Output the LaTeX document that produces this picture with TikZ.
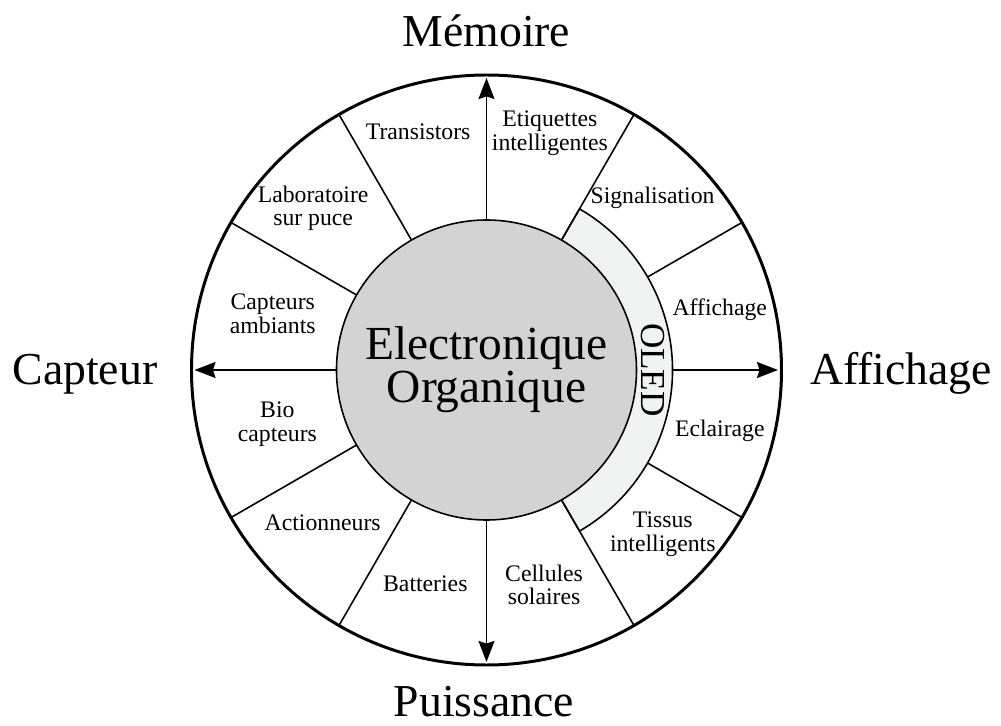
\documentclass[tikz,border=0pt]{standalone}
\usepackage{fontspec}
\setmainfont{Liberation Serif}
\usepackage{xcolor}
\usepackage{tikz}
\usetikzlibrary{arrows.meta,positioning}

\definecolor{coregray}{HTML}{D3D3D3}
\definecolor{oledgray}{HTML}{F1F2F2}

\begin{document}
\begin{tikzpicture}[
    divider/.style={line width=0.9pt},
    axis/.style={line width=0.9pt, -{Stealth[length=0.42cm,width=0.32cm,inset=0.05cm]}},
    lbl/.style={align=center, inner sep=0pt, font=\fontsize{13.5}{13.3}\selectfont},
    pole/.style={inner sep=0pt, font=\fontsize{26}{28}\selectfont}]
    \useasboundingbox (-9.73,-7.12) rectangle (10.29,7.4);

    % outer ring
    \node[circle, draw, line width=1.7pt, minimum size=11.8cm, inner sep=0pt] (rim) at (0,0) {};

    % OLED band
    \draw[divider, fill=oledgray] (60:3) -- (60:3.72) arc[start angle=60, end angle=-60, radius=3.72] -- (-60:3);
    \node[rotate=-90, font=\fontsize{20}{22}\selectfont, inner sep=0pt] (oled) at (3.33,0) {OLED};

    % sectors
    \foreach \a/\r in {30/3.72,60/3,120/3,150/3,210/3,240/3,300/3,330/3.72}
      \draw[divider] (\a:\r) -- (\a:5.9);

    % core
    \node[circle, draw, line width=0.9pt, fill=coregray, minimum size=6cm, inner sep=0pt,
      align=center, font=\fontsize{27}{24.5}\selectfont] (core) at (0,0) {Electronique\\Organique};

    % axes
    \coordinate (top) at (90:5.84);
    \coordinate (bottom) at (270:5.84);
    \coordinate (left) at (180:5.84);
    \coordinate (right) at (0:5.83);
    \coordinate (bandedge) at (0:3.72);
    \draw[axis] (core.north) -- (top);
    \draw[axis] (core.south) -- (bottom);
    \draw[axis] (core.west) -- (left);
    \draw[axis] (bandedge) -- (right);

    \node[pole, anchor=base] (memoire) at (0,6.47) {Mémoire};
    \node[pole, anchor=base] (puissance) at (-0.05,-6.93) {Puissance};
    \node[pole, anchor=base] (capteur) at (-8.03,-0.3) {Capteur};
    \node[pole, anchor=base] (affichage) at (8.29,-0.3) {Affichage};

    % applications
    \foreach \a/\d/\t in {106/4.96/Transistors, 75/4.9/{Etiquettes\\intelligentes},
        46/4.78/Signalisation, 14.5/4.82/Affichage, 345.5/4.82/Eclairage,
        317/4.82/{Tissus\\intelligents}, 285/4.45/{Cellules\\solaires},
        254/4.44/Batteries, 223/4.48/Actionneurs, 194.5/4.32/{Bio\\capteurs},
        165.3/4.42/{Capteurs\\ambiants}, 137/4.74/{Laboratoire\\sur puce}}
      \node[lbl] (app\a) at (\a:\d) {\t};
\end{tikzpicture}
\end{document}
